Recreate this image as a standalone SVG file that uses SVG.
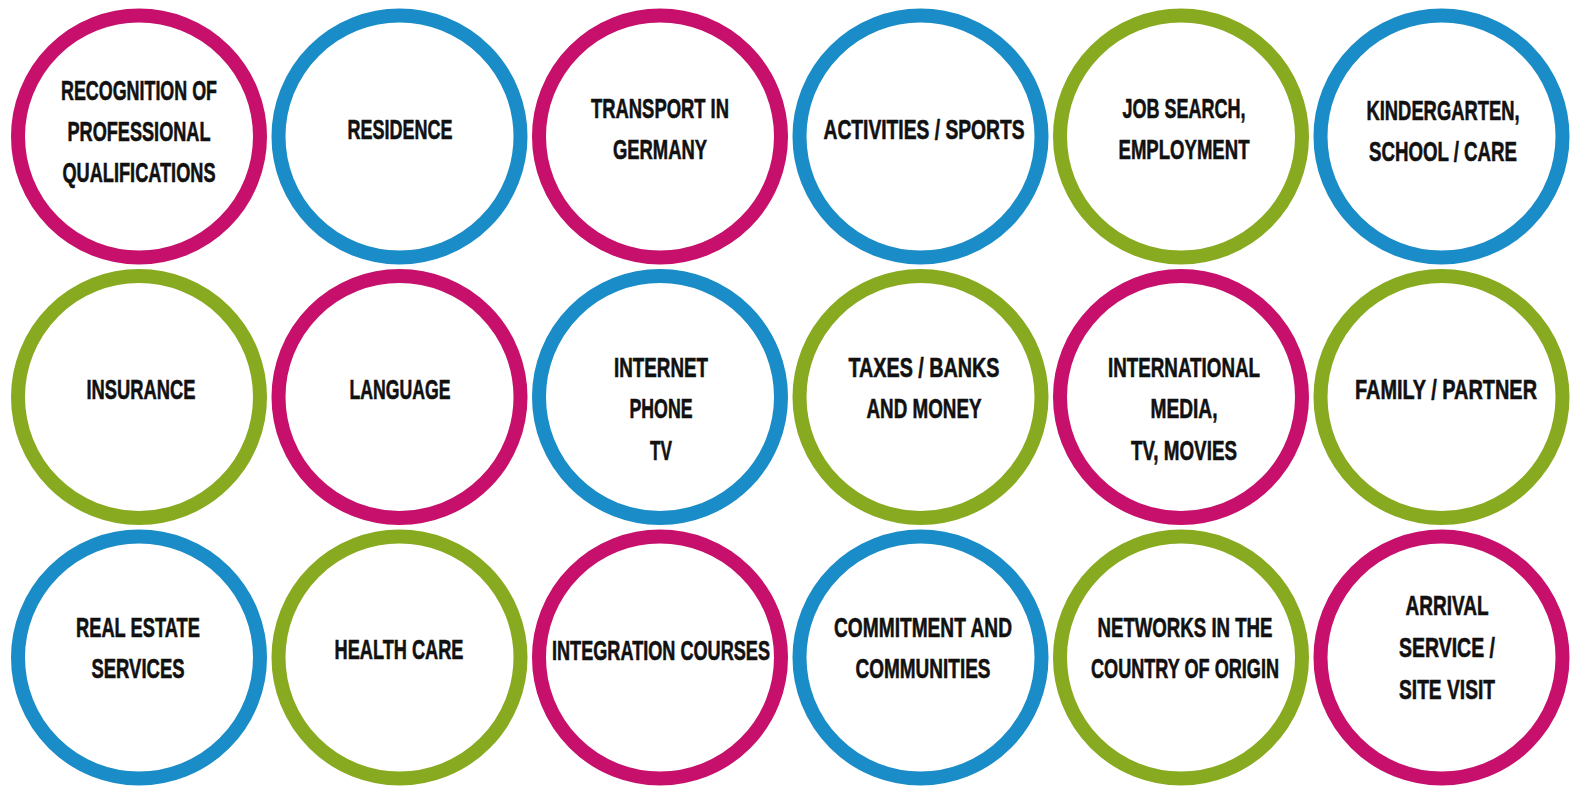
<svg xmlns="http://www.w3.org/2000/svg" width="1572" height="791" viewBox="0 0 1572 791">
<style>
.ring{fill:#fff;stroke-width:14}
.m{stroke:#c6106c}
.b{stroke:#1a8cc7}
.g{stroke:#88aa20}
.t{font-family:"Liberation Sans Narrow","Liberation Sans",Arial,sans-serif;font-weight:bold;font-size:28px;fill:#111;stroke:#111;stroke-width:0.6;text-anchor:middle}
</style>
<rect width="1572" height="791" fill="#fff"/>
<g id="connectors"/>
<g id="n1"><circle class="ring m" cx="139" cy="136.5" r="121"/>
<text class="t" x="139" y="100" textLength="156" lengthAdjust="spacingAndGlyphs">RECOGNITION OF</text>
<text class="t" x="139" y="141" textLength="143" lengthAdjust="spacingAndGlyphs">PROFESSIONAL</text>
<text class="t" x="139" y="182" textLength="153" lengthAdjust="spacingAndGlyphs">QUALIFICATIONS</text></g>
<g id="n2"><circle class="ring b" cx="399.5" cy="136.5" r="121"/>
<text class="t" x="400" y="139" textLength="105" lengthAdjust="spacingAndGlyphs">RESIDENCE</text></g>
<g id="n3"><circle class="ring m" cx="660" cy="136.5" r="121"/>
<text class="t" x="660" y="118" textLength="138" lengthAdjust="spacingAndGlyphs">TRANSPORT IN</text>
<text class="t" x="660" y="159" textLength="94" lengthAdjust="spacingAndGlyphs">GERMANY</text></g>
<g id="n4"><circle class="ring b" cx="920.5" cy="136.5" r="121"/>
<text class="t" x="924" y="139" textLength="201" lengthAdjust="spacingAndGlyphs">ACTIVITIES / SPORTS</text></g>
<g id="n5"><circle class="ring g" cx="1181" cy="136.5" r="121"/>
<text class="t" x="1184" y="118" textLength="123" lengthAdjust="spacingAndGlyphs">JOB SEARCH,</text>
<text class="t" x="1184" y="159" textLength="131" lengthAdjust="spacingAndGlyphs">EMPLOYMENT</text></g>
<g id="n6"><circle class="ring b" cx="1441.5" cy="136.5" r="121"/>
<text class="t" x="1443" y="120" textLength="153" lengthAdjust="spacingAndGlyphs">KINDERGARTEN,</text>
<text class="t" x="1443" y="161" textLength="148" lengthAdjust="spacingAndGlyphs">SCHOOL / CARE</text></g>
<g id="n7"><circle class="ring g" cx="139" cy="397" r="121"/>
<text class="t" x="141" y="399" textLength="109" lengthAdjust="spacingAndGlyphs">INSURANCE</text></g>
<g id="n8"><circle class="ring m" cx="399.5" cy="397" r="121"/>
<text class="t" x="400" y="399" textLength="101" lengthAdjust="spacingAndGlyphs">LANGUAGE</text></g>
<g id="n9"><circle class="ring b" cx="660" cy="397" r="121"/>
<text class="t" x="661" y="377" textLength="94" lengthAdjust="spacingAndGlyphs">INTERNET</text>
<text class="t" x="661" y="418" textLength="63" lengthAdjust="spacingAndGlyphs">PHONE</text>
<text class="t" x="661" y="460" textLength="22" lengthAdjust="spacingAndGlyphs">TV</text></g>
<g id="n10"><circle class="ring g" cx="920.5" cy="397" r="121"/>
<text class="t" x="924" y="377" textLength="151" lengthAdjust="spacingAndGlyphs">TAXES / BANKS</text>
<text class="t" x="924" y="418" textLength="115" lengthAdjust="spacingAndGlyphs">AND MONEY</text></g>
<g id="n11"><circle class="ring m" cx="1181" cy="397" r="121"/>
<text class="t" x="1184" y="377" textLength="152" lengthAdjust="spacingAndGlyphs">INTERNATIONAL</text>
<text class="t" x="1184" y="418" textLength="67" lengthAdjust="spacingAndGlyphs">MEDIA,</text>
<text class="t" x="1184" y="460" textLength="106" lengthAdjust="spacingAndGlyphs">TV, MOVIES</text></g>
<g id="n12"><circle class="ring g" cx="1441.5" cy="397" r="121"/>
<text class="t" x="1446" y="399" textLength="182" lengthAdjust="spacingAndGlyphs">FAMILY / PARTNER</text></g>
<g id="n13"><circle class="ring b" cx="139" cy="657.5" r="121"/>
<text class="t" x="138" y="637" textLength="124" lengthAdjust="spacingAndGlyphs">REAL ESTATE</text>
<text class="t" x="138" y="678" textLength="93" lengthAdjust="spacingAndGlyphs">SERVICES</text></g>
<g id="n14"><circle class="ring g" cx="399.5" cy="657.5" r="121"/>
<text class="t" x="399" y="659" textLength="129" lengthAdjust="spacingAndGlyphs">HEALTH CARE</text></g>
<g id="n15"><circle class="ring m" cx="660" cy="657.5" r="121"/>
<text class="t" x="661" y="660" textLength="218" lengthAdjust="spacingAndGlyphs">INTEGRATION COURSES</text></g>
<g id="n16"><circle class="ring b" cx="920.5" cy="657.5" r="121"/>
<text class="t" x="923" y="637" textLength="178" lengthAdjust="spacingAndGlyphs">COMMITMENT AND</text>
<text class="t" x="923" y="678" textLength="135" lengthAdjust="spacingAndGlyphs">COMMUNITIES</text></g>
<g id="n17"><circle class="ring g" cx="1181" cy="657.5" r="121"/>
<text class="t" x="1185" y="637" textLength="175" lengthAdjust="spacingAndGlyphs">NETWORKS IN THE</text>
<text class="t" x="1185" y="678" textLength="188" lengthAdjust="spacingAndGlyphs">COUNTRY OF ORIGIN</text></g>
<g id="n18"><circle class="ring m" cx="1441.5" cy="657.5" r="121"/>
<text class="t" x="1447" y="615" textLength="83" lengthAdjust="spacingAndGlyphs">ARRIVAL</text>
<text class="t" x="1447" y="657" textLength="96" lengthAdjust="spacingAndGlyphs">SERVICE /</text>
<text class="t" x="1447" y="699" textLength="96" lengthAdjust="spacingAndGlyphs">SITE VISIT</text></g>
</svg>
